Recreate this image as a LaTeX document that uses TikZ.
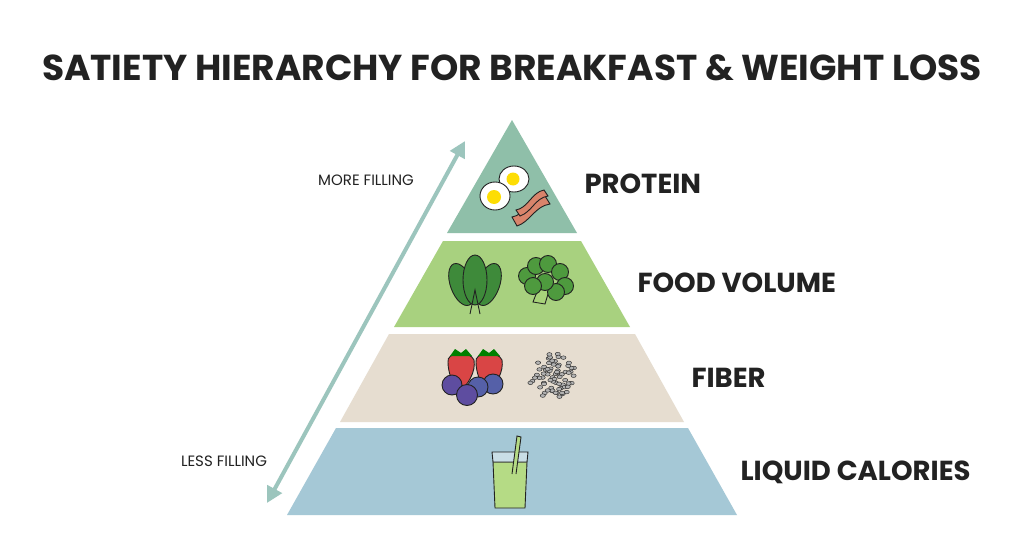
\documentclass[tikz,border=0pt]{standalone}
\usepackage{fontspec}
\setmainfont{Poppins}
\usetikzlibrary{arrows.meta}
\definecolor{cprot}{HTML}{8FBFA9}
\definecolor{cveg}{HTML}{A8D17F}
\definecolor{cfib}{HTML}{E6DDD0}
\definecolor{cliq}{HTML}{A5C8D6}
\definecolor{carrow}{HTML}{9CC5BD}
\definecolor{cdark}{HTML}{222222}
\definecolor{cbacon}{HTML}{D9846B}
\definecolor{cleaf}{HTML}{3E8A3A}
\definecolor{cbroc}{HTML}{4E9A3E}
\definecolor{cstem}{HTML}{A8D37A}
\definecolor{cstraw}{HTML}{D94545}
\definecolor{cblue}{HTML}{5560A8}
\definecolor{cdrink}{HTML}{B5DB85}
\tikzset{
 lbl/.style={font=\fontsize{27.5}{30}\selectfont\bfseries, anchor=west, text=cdark},
 small/.style={font=\fontsize{15}{17}\selectfont, text=cdark},
 ol/.style={draw=cdark, line width=0.9pt},
}
\begin{document}
\begin{tikzpicture}[x=1pt,y=-1pt]
\useasboundingbox (0,0) rectangle (1024,559);
\fill[white] (0,0) rectangle (1024,559);
\node[font=\fontsize{36}{40}\selectfont\bfseries, text=cdark] (title) at (512,68) {SATIETY HIERARCHY FOR BREAKFAST \& WEIGHT LOSS};
% tiers
\fill[cprot] (512,120) -- (577,233) -- (447,233) -- cycle;
\fill[cveg] (443,241) -- (581,241) -- (630,327) -- (394,327) -- cycle;
\fill[cfib] (389,334) -- (635,334) -- (684,422) -- (340,422) -- cycle;
\fill[cliq] (336,428) -- (688,428) -- (737,515) -- (287,515) -- cycle;
% arrow
\coordinate (lo) at (267,503);
\coordinate (hi) at (465,141);
\draw[carrow, line width=4pt, {Triangle[length=16pt,width=16pt]}-{Triangle[length=16pt,width=16pt]}] (lo) -- (hi);
\node[small] (more) at (366,180) {MORE FILLING};
\node[small] (less) at (224,461) {LESS FILLING};
% labels
\node[lbl] (p) at (581,184) {PROTEIN};
\node[lbl] (v) at (634,283) {FOOD VOLUME};
\node[lbl] (f) at (688,378) {FIBER};
\node[lbl] (l) at (737,472) {LIQUID CALORIES};
% eggs
\draw[ol, fill=white] (514,179) ellipse (15 and 13);
\fill[yellow!80!orange] (513,179) circle (6.5);
\draw[ol, fill=white] (495,196) ellipse (15 and 14);
\fill[yellow!80!orange] (494,197) circle (7);
% bacon
\draw[ol, fill=cbacon] (512,217) .. controls (525,215) and (530,198) .. (545,196) -- (550,204) .. controls (535,206) and (530,222) .. (517,226) -- cycle;
\draw[ol, fill=cbacon] (516,210) .. controls (528,208) and (532,192) .. (544,190) -- (548,196) .. controls (535,198) and (532,212) .. (520,216) -- cycle;
% spinach
\draw[ol, fill=cleaf, rotate around={20:(470,308)}] (470,283) ellipse (11 and 22);
\draw[ol, fill=cleaf, rotate around={-20:(480,308)}] (480,283) ellipse (11 and 22);
\draw[ol, fill=cleaf] (475,280) ellipse (12 and 25);
\draw[ol] (470,314) -- (475,290) -- (480,314);
% broccoli
\draw[ol, fill=cstem] (533,302) -- (540,284) -- (551,284) -- (545,304) -- cycle;
\foreach \x/\y in {527/276,536/266,548/264,560/272,565/286,556/292,545/282,533/286}{
 \draw[ol, fill=cbroc] (\x,\y) circle (8.5);}
% strawberries
\draw[ol, fill=cstraw] (448,362) .. controls (446,352) and (470,350) .. (474,360) .. controls (476,372) and (468,384) .. (460,392) .. controls (452,384) and (448,372) .. (448,362) -- cycle;
\draw[ol, fill=cstraw] (476,362) .. controls (474,352) and (498,350) .. (502,360) .. controls (504,372) and (496,384) .. (488,392) .. controls (480,384) and (476,372) .. (476,362) -- cycle;
\fill[green!50!black] (450,356) -- (472,356) -- (466,349) -- (461,353) -- (455,349) -- cycle;
\fill[green!50!black] (478,356) -- (500,356) -- (494,349) -- (489,353) -- (483,349) -- cycle;
% blueberries
\foreach \x/\y in {455,387/485,386/497,385/469,397}{}
\draw[ol, fill=cblue] (493,384) circle (10);
\draw[ol, fill=cblue] (478,387) circle (10);
\draw[ol, fill=cblue!80!violet] (452,385) circle (10);
\draw[ol, fill=cblue!80!violet] (467,395) circle (10.5);
% seeds
\pgfmathsetseed{7}
\foreach \i in {0,...,70}{
 \pgfmathsetmacro\r{sqrt(rnd)*24}\pgfmathsetmacro\t{rnd*360}
 \draw[cdark, fill=gray!60, line width=0.4pt] ({552+\r*cos(\t)},{376+0.95*\r*sin(\t)}) ellipse (2.6 and 1.8);}
% glass
\draw[ol, fill=cdrink] (493,462) -- (527,462) -- (525,508) -- (495,508) -- cycle;
\draw[ol, fill=cliq!60!white] (492,452) -- (528,452) -- (527,462) -- (493,462) -- cycle;
\draw[ol, fill=cdrink] (512,474) -- (517,436) -- (521,437) -- (516,474);
\end{tikzpicture}
\end{document}
